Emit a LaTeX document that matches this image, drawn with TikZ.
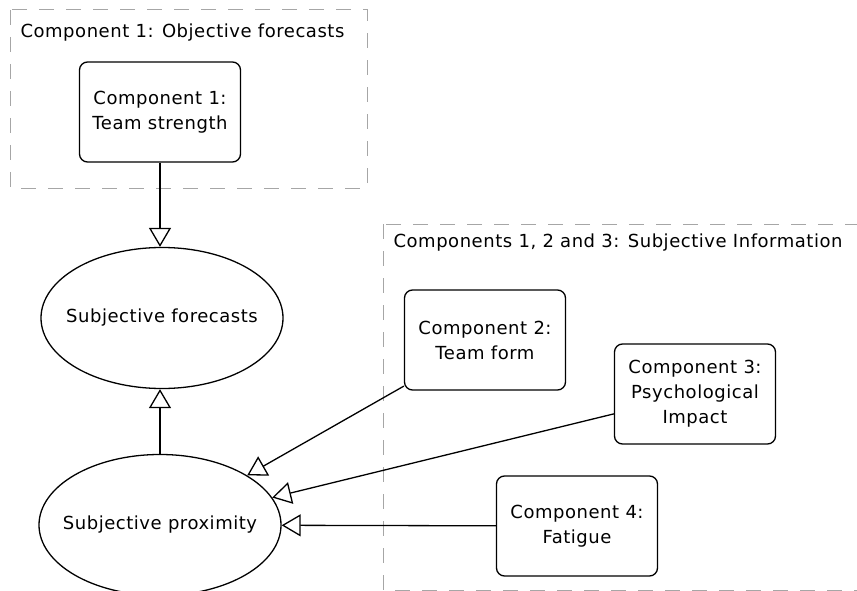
\documentclass[tikz,border=0pt]{standalone}
\usepackage{fontspec}
\setmainfont{DejaVu Sans}[LetterSpace=3]
\usetikzlibrary{arrows.meta,shapes.geometric}
\tikzset{
  >={Triangle[open,length=19pt,width=22pt,fill=white]},
}
\tikzstyle{comp}=[draw,rounded corners=8pt,line width=1.3pt,minimum width=161pt,minimum height=100pt,align=center,inner sep=0pt]
\tikzstyle{belief}=[draw,ellipse,line width=1.3pt,minimum width=242pt,minimum height=141pt,inner sep=0pt]
\tikzstyle{group}=[draw=black!35,dash pattern=on 15pt off 12pt,line width=1pt]
\tikzstyle{link}=[line width=1.3pt,->]
\tikzstyle{every node}=[font=\fontsize{18}{25}\selectfont]

\begin{document}
\begin{tikzpicture}[x=1pt,y=-1pt]
    \useasboundingbox (0,0) rectangle (857,591);
    \clip (0,0) rectangle (857,591);
    % dashed groups
    \draw[group] (10,10) rectangle (367,188);
    \draw[group] (383,224) rectangle (890,590);
    \node[anchor=west] (objtitle) at (17,33) {Component 1: Objective forecasts};
    \node[anchor=west] (subjtitle) at (390,243) {Components 1, 2 and 3: Subjective Information};
    % components and beliefs
    \node[comp] (strength) at (160,112) {Component 1:\\Team strength};
    \node[belief] (fcst) at (162,318) {\makebox[150pt]{Subjective forecasts}};
    \node[belief] (prox) at (160,525) {\makebox[150pt]{Subjective proximity}};
    \node[comp] (form) at (485,340) {Component 2:\\Team form};
    \node[comp] (psych) at (695,394) {Component 3:\\Psychological\\Impact};
    \node[comp] (fatigue) at (577,526) {Component 4:\\Fatigue};
    % links
    \draw[link] (strength) -- (strength|-fcst.north);
    \draw[link] (prox) -- (prox|-fcst.south);
    \draw[link] (form) -- (prox);
    \draw[link] (psych) -- (prox);
    \draw[link] (fatigue) -- (prox);
\end{tikzpicture}
\end{document}
